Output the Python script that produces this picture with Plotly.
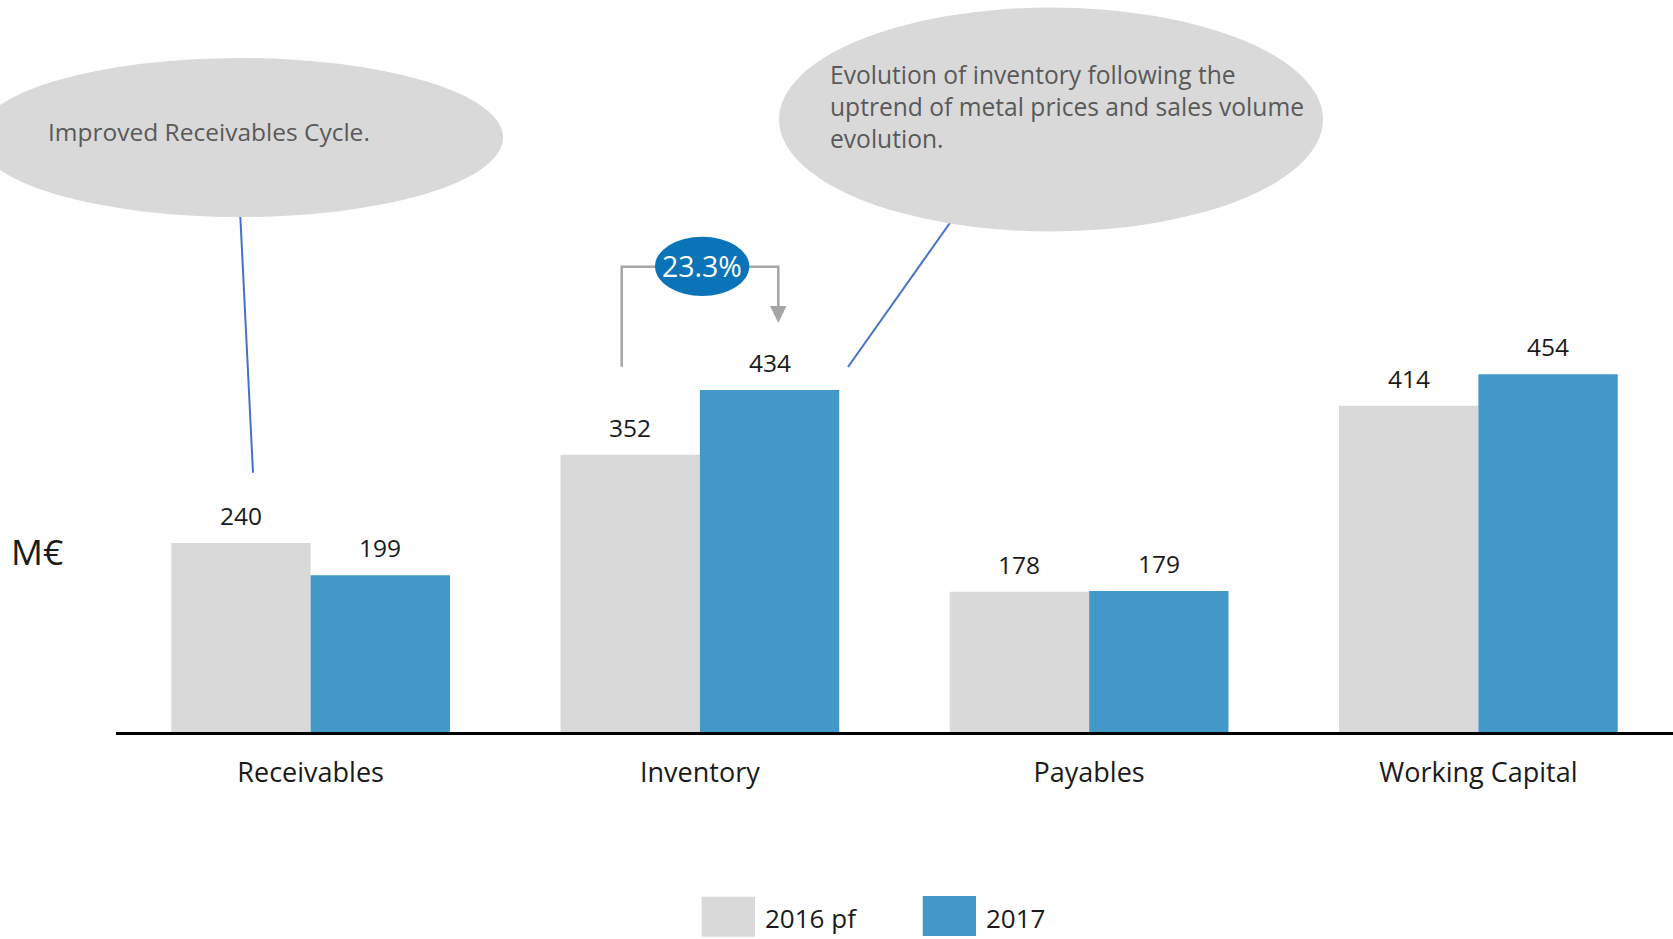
import plotly.graph_objects as go

# ---- data ----
categories = ["Receivables", "Inventory", "Payables", "Working Capital"]
series_names = ["2016 pf", "2017"]
values_2016 = [240, 352, 178, 414]
values_2017 = [199, 434, 179, 454]
inventory_growth = "23.3%"
note_receivables = "Improved Receivables Cycle."
note_inventory = ("Evolution of inventory following the<br>"
                  "uptrend of metal prices and sales volume<br>"
                  "evolution.")
unit_label = "M€"

# ---- style ----
GREY = "#D9D9D9"
BLUE = "#4299C9"
DARK_BLUE = "#0B74B8"
LINK = "#4472C4"
BRACKET = "#A6A6A6"
TEXT = "#1A1A1A"
NOTE_TEXT = "#595959"
FONT = "Open Sans"

W, H = 1673, 939
ML, MR, MT, MB = 116, 0, 0, 207
PW, PH = W - ML - MR, H - MT - MB
BARGAP = 0.284
Y_MAX = 929


def px(x):
    """pixel column -> paper x"""
    return (x - ML) / PW


def py(y):
    """pixel row -> paper y"""
    return (H - MB - y) / PH


fig = go.Figure()
for name, vals, col in [(series_names[0], values_2016, GREY),
                        (series_names[1], values_2017, BLUE)]:
    fig.add_trace(go.Bar(x=categories, y=vals, name=name,
                         marker=dict(color=col, line=dict(width=0)),
                         showlegend=False, hoverinfo="skip"))

# value labels above each bar
step_px = PW / len(categories)
half_bar = step_px * (1 - BARGAP) / 4
annotations = []
for vals, sign in [(values_2016, -1), (values_2017, 1)]:
    for cat, v in zip(categories, vals):
        annotations.append(dict(
            x=cat, y=v, xref="x", yref="y", text=str(v), showarrow=False,
            xshift=sign * half_bar, yshift=9, xanchor="center",
            yanchor="bottom",
            font=dict(family=FONT, size=24.5, color=TEXT)))

shapes = []
# connectors from callouts
shapes.append(dict(type="line", xref="paper", yref="paper",
                   x0=px(240), y0=py(210), x1=px(253), y1=py(472.7),
                   line=dict(color=LINK, width=2)))
shapes.append(dict(type="line", xref="paper", yref="paper",
                   x0=px(952), y0=py(220), x1=px(848), y1=py(367),
                   line=dict(color=LINK, width=2)))
# callout bubbles
shapes.append(dict(type="circle", xref="paper", yref="paper",
                   x0=px(-23), x1=px(503), y0=py(217), y1=py(58),
                   fillcolor=GREY, line=dict(width=0)))
shapes.append(dict(type="circle", xref="paper", yref="paper",
                   x0=px(779), x1=px(1323), y0=py(231.5), y1=py(7.5),
                   fillcolor=GREY, line=dict(width=0)))
# growth bracket with arrow
path = (f"M {px(621.7)},{py(366.7)} L {px(621.7)},{py(266.7)} "
        f"L {px(778.3)},{py(266.7)} L {px(778.3)},{py(308)}")
shapes.append(dict(type="path", xref="paper", yref="paper", path=path,
                   line=dict(color=BRACKET, width=2.5)))
tri = (f"M {px(770)},{py(306)} L {px(786.5)},{py(306)} "
       f"L {px(778.3)},{py(323)} Z")
shapes.append(dict(type="path", xref="paper", yref="paper", path=tri,
                   fillcolor=BRACKET, line=dict(width=0)))
shapes.append(dict(type="circle", xref="paper", yref="paper",
                   x0=px(655), x1=px(749.3), y0=py(296), y1=py(236.7),
                   fillcolor=DARK_BLUE, line=dict(width=0)))

# legend swatches
for (x0, x1, y0, y1), col in [((701.7, 755, 896.7, 936.7), GREY),
                              ((922.7, 976, 896, 936), BLUE)]:
    shapes.append(dict(type="rect", xref="paper", yref="paper",
                       x0=px(x0), x1=px(x1), y0=py(y1), y1=py(y0),
                       fillcolor=col, line=dict(width=0)))


def label(x, y, text, size, color, xanchor="left", align="left"):
    return dict(x=px(x), y=py(y), xref="paper", yref="paper", text=text,
                showarrow=False, xanchor=xanchor, yanchor="middle",
                align=align, font=dict(family=FONT, size=size, color=color))


annotations += [
    label(702, 266.3, inventory_growth, 28.5, "white", xanchor="center",
          align="center"),
    label(46, 132, note_receivables, 24.5, NOTE_TEXT),
    label(828, 106.7, note_inventory, 24.6, NOTE_TEXT),
    label(36.5, 550.6, unit_label, 35.5, TEXT, xanchor="center",
          align="center"),
    label(763, 918, series_names[0], 26, TEXT),
    label(984, 918, series_names[1], 26, TEXT),
]

fig.update_layout(
    width=W, height=H,
    margin=dict(l=ML, r=MR, t=MT, b=MB, pad=0),
    paper_bgcolor="white", plot_bgcolor="white",
    barmode="group", bargap=BARGAP, bargroupgap=0,
    shapes=shapes, annotations=annotations,
    font=dict(family=FONT, color=TEXT),
    xaxis=dict(range=[-0.5, len(categories) - 0.5], showgrid=False,
               showline=True, linecolor="black", linewidth=2.5,
               ticks="", ticklabelstandoff=15, zeroline=False,
               tickfont=dict(family=FONT, size=27, color=TEXT),
               fixedrange=True),
    yaxis=dict(range=[0, Y_MAX], visible=False, fixedrange=True),
)

fig.write_html("out.html")
